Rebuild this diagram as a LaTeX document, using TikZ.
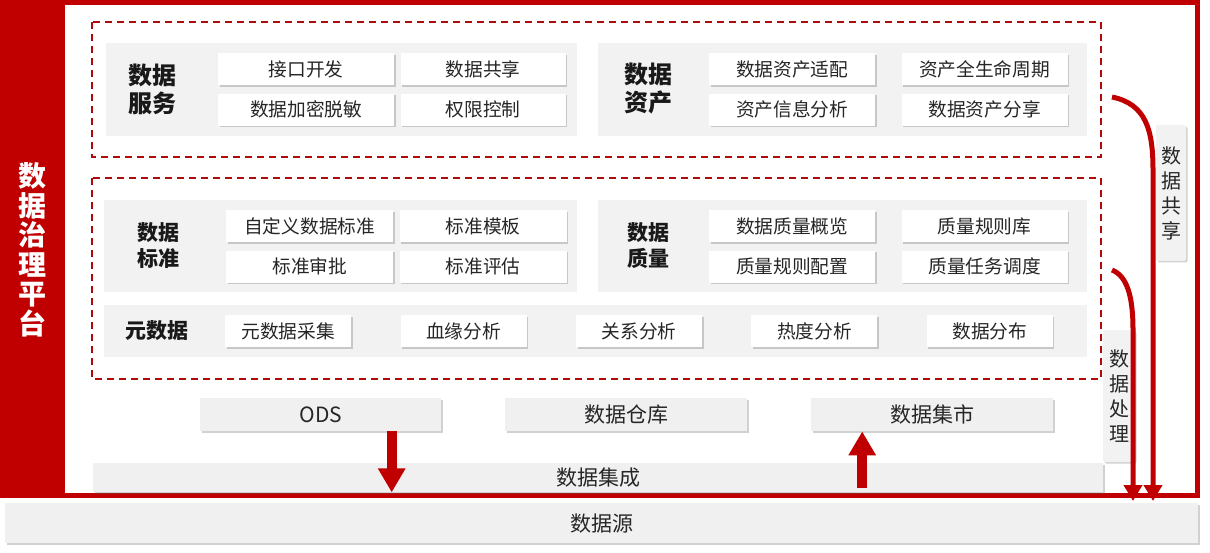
\documentclass[tikz,border=0pt]{standalone}
\usepackage{fontspec}
\setmainfont{Noto Sans CJK SC}
\usetikzlibrary{positioning, shadows, arrows.meta}
\definecolor{govred}{HTML}{C00000}
\definecolor{dashred}{HTML}{B00A0A}
\definecolor{panelgray}{HTML}{F2F2F2}
\definecolor{bargray}{HTML}{F0F0F0}
\definecolor{itemtext}{HTML}{262626}

\tikzset{
    panel/.style={fill=panelgray, anchor=north west, inner sep=0pt},
    item/.style={fill=white, anchor=north west, minimum height=32pt, inner sep=0pt,
        font=\fontsize{18.7}{20}\selectfont, text=itemtext,
        drop shadow={shadow xshift=1.5pt, shadow yshift=-1.5pt, opacity=0.3, fill=black!60}},
    bar/.style={fill=bargray, anchor=north west, inner sep=0pt,
        font=\fontsize{21}{22}\selectfont, text=itemtext,
        drop shadow={shadow xshift=1.5pt, shadow yshift=-1.5pt, opacity=0.3, fill=black!60}},
    tagbig/.style={align=center, font=\fontsize{24}{28}\selectfont\bfseries, text=black!90},
    tagsmall/.style={align=center, font=\fontsize{21}{26}\selectfont\bfseries, text=black!90},
    vlabel/.style={fill=panelgray, rounded corners=2pt, inner sep=0pt, align=center,
        font=\fontsize{20}{25}\selectfont, text=itemtext,
        drop shadow={shadow xshift=1.5pt, shadow yshift=-1.5pt, opacity=0.3, fill=black!60}},
    dashbox/.style={draw=dashred, line width=1.6pt, dash pattern=on 7pt off 5pt},
    bigarrow/.style={draw=govred, line width=10pt, -{Triangle[width=26pt,length=24pt]}},
    flow/.style={draw=govred, line width=5pt, -{Triangle[width=18pt,length=16pt]}},
}

\begin{document}
\begin{tikzpicture}[x=1pt, y=-1pt]
    \useasboundingbox (0,0) rectangle (1210,553);

    % frame
    \draw[govred, line width=5pt] (2.5,2.5) rectangle (1197.5,495.5);
    \fill[govred] (0,0) rectangle (65,498);
    \node[font=\fontsize{28}{29.5}\selectfont\bfseries, text=white, align=center] (title) at (33,250) {数\\据\\治\\理\\平\\台};

    % upper block
    \draw[dashbox] (92,22) rectangle (1101,157);
    \node[panel, minimum width=471pt, minimum height=93pt] (pa) at (106,43) {};
    \node[tagbig] (la) at (152,89) {数据\\服务};
    \node[item, minimum width=176pt] (a1) at (218,53) {接口开发};
    \node[item, minimum width=165pt, right=6pt of a1] (a2) {数据共享};
    \node[item, minimum width=176pt, below=8pt of a1] (a3) {数据加密脱敏};
    \node[item, minimum width=165pt, right=6pt of a3] (a4) {权限控制};

    \node[panel, minimum width=489pt, minimum height=93pt] (pb) at (598,43) {};
    \node[tagbig] (lb) at (648,89) {数据\\资产};
    \node[item, minimum width=166pt] (b1) at (709,53) {数据资产适配};
    \node[item, minimum width=166pt, right=26pt of b1] (b2) {资产全生命周期};
    \node[item, minimum width=166pt, below=8pt of b1] (b3) {资产信息分析};
    \node[item, minimum width=166pt, right=26pt of b3] (b4) {数据资产分享};

    % middle block
    \draw[dashbox] (92,178) rectangle (1101,379);
    \node[panel, minimum width=473pt, minimum height=92pt] (pc) at (104,200) {};
    \node[tagsmall] (lc) at (158,246) {数据\\标准};
    \node[item, minimum width=167pt] (c1) at (226,210) {自定义数据标准};
    \node[item, minimum width=167pt, right=6pt of c1] (c2) {标准模板};
    \node[item, minimum width=167pt, below=8pt of c1] (c3) {标准审批};
    \node[item, minimum width=167pt, right=6pt of c3] (c4) {标准评估};

    \node[panel, minimum width=489pt, minimum height=92pt] (pd) at (598,200) {};
    \node[tagsmall] (ld) at (648,246) {数据\\质量};
    \node[item, minimum width=166pt] (d1) at (709,210) {数据质量概览};
    \node[item, minimum width=166pt, right=26pt of d1] (d2) {质量规则库};
    \node[item, minimum width=166pt, below=8pt of d1] (d3) {质量规则配置};
    \node[item, minimum width=166pt, right=26pt of d3] (d4) {质量任务调度};

    \node[panel, minimum width=983pt, minimum height=52pt] (pe) at (104,305) {};
    \node[tagsmall] (le) at (157,331) {元数据};
    \node[item, minimum width=126pt] (e1) at (225,315) {元数据采集};
    \node[item, minimum width=126pt, right=49pt of e1] (e2) {血缘分析};
    \node[item, minimum width=126pt, right=49pt of e2] (e3) {关系分析};
    \node[item, minimum width=126pt, right=49pt of e3] (e4) {热度分析};
    \node[item, minimum width=126pt, right=49pt of e4] (e5) {数据分布};

    % storage and sources
    \node[bar, minimum width=241pt, minimum height=33pt] (ods) at (200,398) {ODS};
    \node[bar, minimum width=242pt, minimum height=33pt] (dw) at (505,398) {数据仓库};
    \node[bar, minimum width=242pt, minimum height=33pt] (mart) at (811,398) {数据集市};
    \node[bar, minimum width=1010pt, minimum height=29pt] (ji) at (93,463) {数据集成};
    \node[bar, minimum width=1193pt, minimum height=40pt] (src) at (5,503) {数据源};

    \coordinate (odsdown) at ([xshift=71pt]ods.south);
    \coordinate (martup) at ([xshift=-70pt]mart.south);
    \draw[bigarrow] (odsdown) -- (odsdown |- ji.south);
    \draw[bigarrow, shorten <=4pt] (martup |- ji.south) -- (martup);

    % side flows
    \node[vlabel, minimum width=30pt, minimum height=136pt] (share) at (1171,193) {数\\据\\共\\享};
    \node[vlabel, minimum width=32pt, minimum height=132pt] (proc) at (1119,396) {数\\据\\处\\理};
    \coordinate (share0) at (1112,97);
    \coordinate (share1) at (1153,501);
    \coordinate (proc0) at (1112,270);
    \coordinate (proc1) at (1133,501);
    \draw[flow] (share0) .. controls (1146,104) and (1153,130) .. (1153,170) -- (share1);
    \draw[flow] (proc0) .. controls (1127,276) and (1133,296) .. (1133,330) -- (proc1);
\end{tikzpicture}
\end{document}
